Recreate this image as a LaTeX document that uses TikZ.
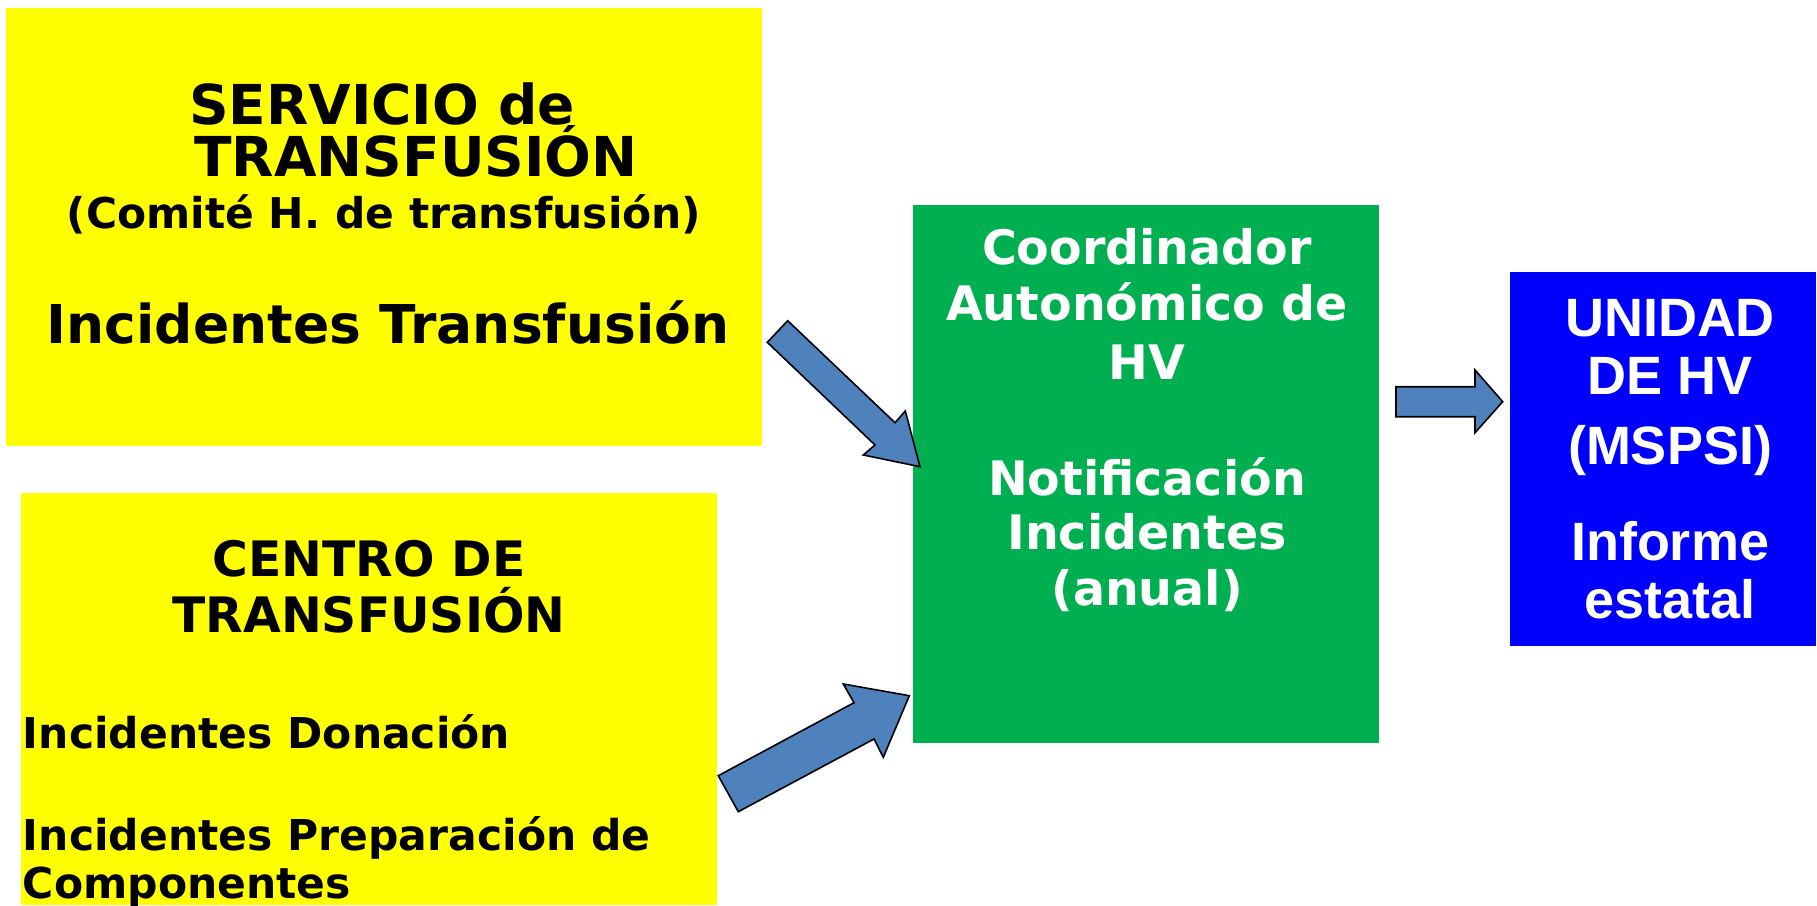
\documentclass[tikz,border=0pt]{standalone}
\usepackage{fontspec}
\setmainfont{DejaVu Sans}
\newfontfamily\arialfont{Liberation Sans}
\definecolor{ybg}{HTML}{FFFF00}
\definecolor{gbg}{HTML}{00B050}
\definecolor{bbg}{HTML}{0000FF}
\definecolor{arrowc}{HTML}{4F81BD}
\tikzset{
  boxy/.style={draw=none, inner sep=0pt, outer sep=0pt},
  txt/.style={inner sep=0pt, outer sep=0pt, anchor=base},
  txtl/.style={inner sep=0pt, outer sep=0pt, anchor=base west},
  blockarrow/.style={fill=arrowc, draw=black, line width=1.6pt, line join=miter},
}
\begin{document}
\begin{tikzpicture}[x=1pt, y=-1pt]
\useasboundingbox (0,0) rectangle (1817,905);
% boxes
\path[fill=ybg] (6,8) rectangle (762,446);
\node[boxy, minimum width=756pt, minimum height=438pt] (svc) at (384,227) {};
\path[fill=ybg] (21,493) rectangle (717,905);
\node[boxy, minimum width=696pt, minimum height=412pt] (cen) at (369,699) {};
\path[fill=gbg] (913,205) rectangle (1379,743);
\node[boxy, minimum width=466pt, minimum height=538pt] (coord) at (1146,474) {};
\path[fill=bbg] (1510,272) rectangle (1816,646);
\node[boxy, minimum width=306pt, minimum height=374pt] (unid) at (1663,459) {};

% texts, box 1
\node[txt, font=\bfseries\fontsize{55}{52}\selectfont] (s1) at (382,124) {SERVICIO de};
\node[txt, font=\bfseries\fontsize{55}{52}\selectfont] (s2) at (416,176) {TRANSFUSIÓN};
\node[txt, font=\bfseries\fontsize{42.4}{48}\selectfont] (s3) at (384,228) {(Comité H. de transfusión)};
\node[txt, font=\bfseries\fontsize{53.5}{60}\selectfont] (s4) at (388,343) {Incidentes Transfusión};

% texts, box 2
\node[txt, font=\bfseries\fontsize{48.8}{56}\selectfont] (c1) at (369,576) {CENTRO DE};
\node[txt, font=\bfseries\fontsize{48.8}{56}\selectfont] (c2) at (369,632) {TRANSFUSIÓN};
\node[txtl, font=\bfseries\fontsize{42.5}{48}\selectfont] (c3) at (23,748) {Incidentes Donación};
\node[txtl, font=\bfseries\fontsize{42.5}{48}\selectfont] (c4) at (23,850) {Incidentes Preparación de};
\node[txtl, font=\bfseries\fontsize{42.5}{48}\selectfont] (c5) at (23,898) {Componentes};

% texts, green box
\begin{scope}[every node/.style={txt, text=white, font=\bfseries\fontsize{47.5}{56}\selectfont}]
\node (g1) at (1147,264) {Coordinador};
\node (g2) at (1147,320) {Autonómico de};
\node (g3) at (1147,379) {HV};
\node (g4) at (1147,495) {Notificación};
\node (g5) at (1147,549) {Incidentes};
\node (g6) at (1147,605) {(anual)};
\end{scope}

% texts, blue box
\begin{scope}[every node/.style={txt, text=white, font=\arialfont\bfseries\fontsize{54}{60}\selectfont}]
\node (u1) at (1670,336) {UNIDAD};
\node (u2) at (1670,394) {DE HV};
\node (u3) at (1670,464) {(MSPSI)};
\node (u4) at (1670,560) {Informe};
\node (u5) at (1670,618) {estatal};
\end{scope}

% block arrows
\draw[blockarrow] (787.7,320.7) -- (895,422.7) -- (905.3,411) -- (920,466.7)
  -- (863.3,455) -- (875,445) -- (767.3,342.3) -- cycle;
\draw[blockarrow] (718.3,775.7) -- (854,702.7) -- (843.3,684) -- (909.3,695.7)
  -- (883.3,757.3) -- (874,739) -- (738.3,811.7) -- cycle;
\draw[blockarrow] (1396,386.7) -- (1475,386.7) -- (1475,370) -- (1502.7,401.7)
  -- (1475,432.7) -- (1475,416.7) -- (1396,416.7) -- cycle;
\end{tikzpicture}
\end{document}
